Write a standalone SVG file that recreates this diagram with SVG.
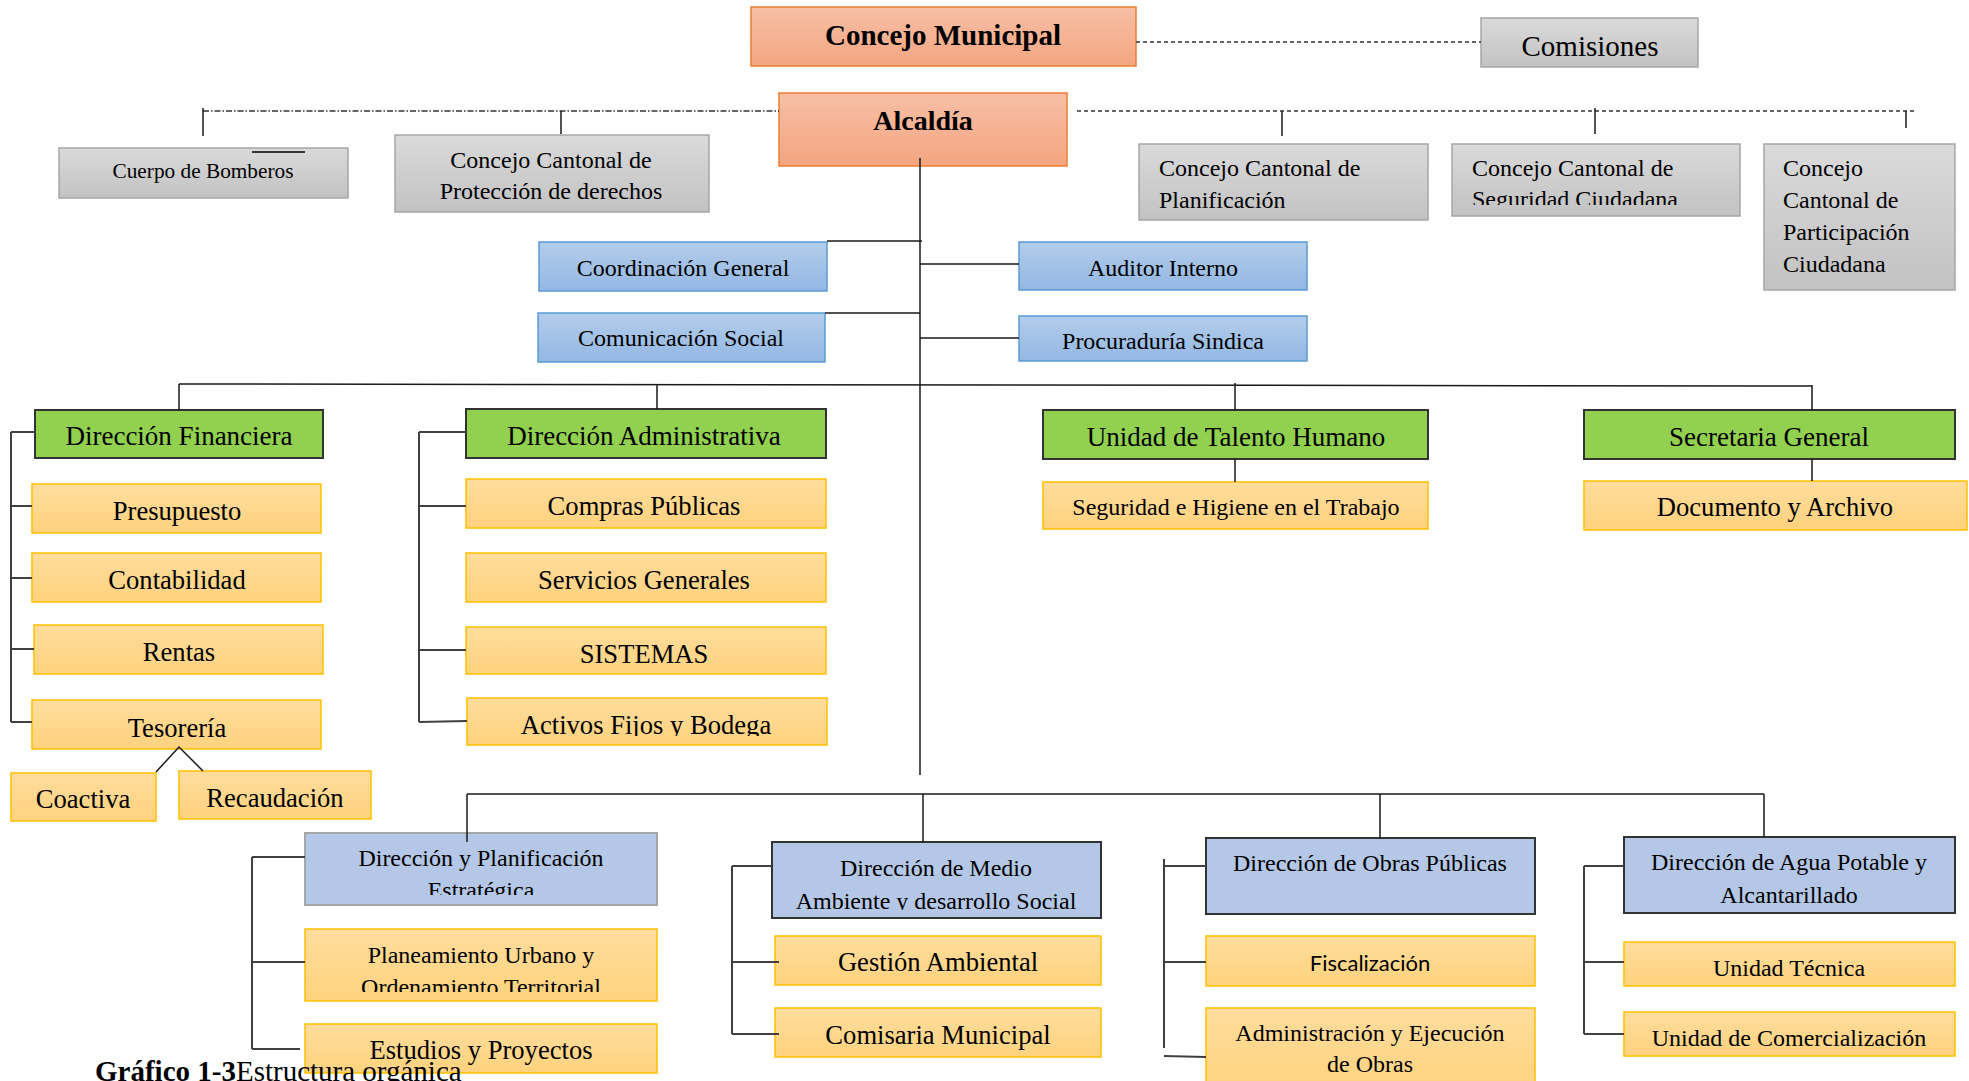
<svg xmlns="http://www.w3.org/2000/svg" width="1969" height="1081" viewBox="0 0 1969 1081">
<defs>
<linearGradient id="gSal" x1="0" y1="0" x2="0" y2="1"><stop offset="0" stop-color="#F7BFA6"/><stop offset="1" stop-color="#F4A580"/></linearGradient>
<linearGradient id="gGray" x1="0" y1="0" x2="0" y2="1"><stop offset="0" stop-color="#DADADA"/><stop offset="1" stop-color="#C2C2C2"/></linearGradient>
<linearGradient id="gBlue" x1="0" y1="0" x2="0" y2="1"><stop offset="0" stop-color="#B3CDEB"/><stop offset="1" stop-color="#93B7E3"/></linearGradient>
<linearGradient id="gOr" x1="0" y1="0" x2="0" y2="1"><stop offset="0" stop-color="#FFDD9E"/><stop offset="1" stop-color="#FFD27D"/></linearGradient>
<clipPath id="cSeg"><rect x="1452" y="144" width="288" height="61"/></clipPath>
<clipPath id="cAct"><rect x="467" y="698" width="360" height="38"/></clipPath>
<clipPath id="cEst"><rect x="305" y="833" width="352" height="62"/></clipPath>
<clipPath id="cMed"><rect x="772" y="842" width="329" height="68"/></clipPath>
<clipPath id="cPla"><rect x="305" y="929" width="352" height="63"/></clipPath>
</defs>
<style>
text{font-family:"Liberation Serif","Times New Roman",serif;fill:#000;text-anchor:middle}
.b{font-weight:bold}
.l{text-anchor:start}
.sal{fill:url(#gSal);stroke:#ED7D31;stroke-width:1.5}
.gry{fill:url(#gGray);stroke:#A6A6A6;stroke-width:1.5}
.blu{fill:url(#gBlue);stroke:#5B9BD5;stroke-width:1.5}
.grn{fill:#92D050;stroke:#333;stroke-width:2}
.org{fill:url(#gOr);stroke:#FFC000;stroke-width:1.5}
.lbl{fill:#B4C7E7;stroke:#333;stroke-width:2}
.lblg{fill:#B4C7E7;stroke:#A6A6A6;stroke-width:2}
.f21{font-size:21.3px}.f24{font-size:24px}.f26{font-size:26.6px}.f27{font-size:27px}.f28{font-size:28px}.f29{font-size:29px}
.c{fill:none;stroke:#1a1a1a;stroke-width:1.5}
.c2{fill:none;stroke:#404040;stroke-width:2}
.dash{fill:none;stroke:#333;stroke-width:1.3;stroke-dasharray:4 3}
.dd{fill:none;stroke:#333;stroke-width:1.3;stroke-dasharray:6 2 1.5 2}
</style>
<rect width="1969" height="1081" fill="#fff"/>

<g id="concejo-municipal"><rect class="sal" x="751" y="7" width="385" height="59"/><text class="b f29" x="943" y="45">Concejo Municipal</text></g>
<g id="comisiones"><rect class="gry" x="1481" y="18" width="217" height="49"/><text class="f29" x="1590" y="56">Comisiones</text></g>
<g id="alcaldia"><rect class="sal" x="779" y="93" width="288" height="73"/><text class="b f28" x="923" y="130">Alcaldía</text></g>
<g id="cuerpo-bomberos"><rect class="gry" x="59" y="148" width="289" height="50"/><line x1="252" y1="152" x2="305" y2="152" stroke="#000" stroke-width="1.5"/><text class="f21" x="203" y="178">Cuerpo de Bomberos</text></g>
<g id="proteccion-derechos"><rect class="gry" x="395" y="135" width="314" height="77"/><text class="f24" x="551" y="168">Concejo Cantonal de</text><text class="f24" x="551" y="199">Protección de derechos</text></g>
<g id="planificacion"><rect class="gry" x="1139" y="144" width="289" height="76"/><text class="f24 l" x="1159" y="176">Concejo Cantonal de</text><text class="f24 l" x="1159" y="208">Planificación</text></g>
<g id="seguridad-ciudadana"><rect class="gry" x="1452" y="144" width="288" height="72"/><g clip-path="url(#cSeg)"><text class="f24 l" x="1472" y="176">Concejo Cantonal de</text><text class="f24 l" x="1472" y="207">Seguridad Ciudadana</text></g></g>
<g id="participacion-ciudadana"><rect class="gry" x="1764" y="144" width="191" height="146"/><text class="f24 l" x="1783" y="176">Concejo</text><text class="f24 l" x="1783" y="208">Cantonal de</text><text class="f24 l" x="1783" y="240">Participación</text><text class="f24 l" x="1783" y="272">Ciudadana</text></g>

<g id="coordinacion-general"><rect class="blu" x="539" y="242" width="288" height="49"/><text class="f24" x="683" y="276">Coordinación General</text></g>
<g id="comunicacion-social"><rect class="blu" x="538" y="313" width="287" height="49"/><text class="f24" x="681" y="346">Comunicación Social</text></g>
<g id="auditor-interno"><rect class="blu" x="1019" y="242" width="288" height="48"/><text class="f24" x="1163" y="276">Auditor Interno</text></g>
<g id="procuraduria-sindica"><rect class="blu" x="1019" y="316" width="288" height="45"/><text class="f24" x="1163" y="349">Procuraduría Sindica</text></g>

<g id="direccion-financiera"><rect class="grn" x="35" y="410" width="288" height="48"/><text class="f27" x="179" y="445">Dirección Financiera</text></g>
<g id="direccion-administrativa"><rect class="grn" x="466" y="409" width="360" height="49"/><text class="f27" x="644" y="445">Dirección Administrativa</text></g>
<g id="talento-humano"><rect class="grn" x="1043" y="410" width="385" height="49"/><text class="f27" x="1236" y="446">Unidad de Talento Humano</text></g>
<g id="secretaria-general"><rect class="grn" x="1584" y="410" width="371" height="49"/><text class="f27" x="1769" y="446">Secretaria General</text></g>

<g id="presupuesto"><rect class="org" x="32" y="484" width="289" height="49"/><text class="f26" x="177" y="520">Presupuesto</text></g>
<g id="contabilidad"><rect class="org" x="32" y="553" width="289" height="49"/><text class="f26" x="177" y="589">Contabilidad</text></g>
<g id="rentas"><rect class="org" x="34" y="625" width="289" height="49"/><text class="f26" x="179" y="661">Rentas</text></g>
<g id="tesoreria"><rect class="org" x="32" y="700" width="289" height="49"/><text class="f26" x="177" y="737">Tesorería</text></g>
<g id="coactiva"><rect class="org" x="11" y="773" width="145" height="48"/><text class="f26" x="83" y="808">Coactiva</text></g>
<g id="recaudacion"><rect class="org" x="179" y="771" width="192" height="48"/><text class="f26" x="275" y="807">Recaudación</text></g>

<g id="compras-publicas"><rect class="org" x="466" y="479" width="360" height="49"/><text class="f26" x="644" y="515">Compras Públicas</text></g>
<g id="servicios-generales"><rect class="org" x="466" y="553" width="360" height="49"/><text class="f26" x="644" y="589">Servicios Generales</text></g>
<g id="sistemas"><rect class="org" x="466" y="627" width="360" height="47"/><text class="f26" x="644" y="663">SISTEMAS</text></g>
<g id="activos-fijos"><rect class="org" x="467" y="698" width="360" height="47"/><g clip-path="url(#cAct)"><text class="f26" x="646" y="734">Activos Fijos y Bodega</text></g></g>

<g id="seguridad-higiene"><rect class="org" x="1043" y="482" width="385" height="47"/><text class="f24" x="1236" y="515">Seguridad e Higiene en el Trabajo</text></g>
<g id="documento-archivo"><rect class="org" x="1584" y="481" width="383" height="49"/><text class="f26" x="1775" y="516">Documento y Archivo</text></g>

<g id="direccion-planificacion"><rect class="lblg" x="305" y="833" width="352" height="72"/><g clip-path="url(#cEst)"><text class="f24" x="481" y="866">Dirección y Planificación</text><text class="f24" x="481" y="898">Estratégica</text></g></g>
<g id="medio-ambiente"><rect class="lbl" x="772" y="842" width="329" height="76"/><g clip-path="url(#cMed)"><text class="f24" x="936" y="876">Dirección de Medio</text><text class="f24" x="936" y="909">Ambiente y desarrollo Social</text></g></g>
<g id="obras-publicas"><rect class="lbl" x="1206" y="838" width="329" height="76"/><text class="f24" x="1370" y="871">Dirección de Obras Públicas</text></g>
<g id="agua-potable"><rect class="lbl" x="1624" y="837" width="331" height="76"/><text class="f24" x="1789" y="870">Dirección de Agua Potable y</text><text class="f24" x="1789" y="903">Alcantarillado</text></g>

<g id="planeamiento-urbano"><rect class="org" x="305" y="929" width="352" height="72"/><g clip-path="url(#cPla)"><text class="f24" x="481" y="963">Planeamiento Urbano y</text><text class="f24" x="481" y="995">Ordenamiento Territorial</text></g></g>
<g id="estudios-proyectos"><rect class="org" x="305" y="1024" width="352" height="49"/><text class="f26" x="481" y="1059">Estudios y Proyectos</text></g>
<g id="gestion-ambiental"><rect class="org" x="775" y="936" width="326" height="49"/><text class="f26" x="938" y="971">Gestión Ambiental</text></g>
<g id="comisaria-municipal"><rect class="org" x="775" y="1008" width="326" height="49"/><text class="f26" x="938" y="1044">Comisaria Municipal</text></g>
<g id="fiscalizacion"><rect class="org" x="1206" y="936" width="329" height="50"/><text x="1370" y="971" style="font-family:Lato,'Open Sans',sans-serif;font-size:22px">Fiscalización</text></g>
<g id="administracion-ejecucion"><rect class="org" x="1206" y="1008" width="329" height="85"/><text class="f24" x="1370" y="1041">Administración y Ejecución</text><text class="f24" x="1370" y="1072">de Obras</text></g>
<g id="unidad-tecnica"><rect class="org" x="1624" y="942" width="331" height="44"/><text class="f24" x="1789" y="976">Unidad Técnica</text></g>
<g id="unidad-comercializacion"><rect class="org" x="1624" y="1012" width="331" height="44"/><text class="f24" x="1789" y="1046">Unidad de Comercialización</text></g>

<g id="connectors">
<path class="dash" d="M1136,42 H1481"/>
<path class="dd" d="M203,111 H779"/>
<path class="dash" d="M1077,111 H1914"/>
<path class="c" d="M203,108 V136 M561,111 V134 M1282,111 V136 M1595,108 V134 M1906,111 V128"/>
<path class="c" d="M920,158 V775"/>
<path class="c" d="M827,241 H922 M825,313 H920 M920,264 H1019 M920,338 H1019"/>
<path class="c" d="M179,384 L1812,386 M179,384 V410 M657,385 V409 M1235,383 V410 M1812,385 V410"/>
<path class="c2" d="M11,432 V722 M11,432 H35 M11,506 H32 M11,578 H32 M11,649 H34 M11,722 H32"/>
<path class="c" d="M156,772 L179,747 L203,771"/>
<path class="c2" d="M419,432 V722 M419,432 H466 M419,506 H466 M419,650 H466 M419,722 L467,721"/>
<path class="c" d="M1235,459 V482 M1812,459 V481"/>
<path class="c" d="M467,794 H1764 M467,794 V842 M923,794 V842 M1380,794 V838 M1764,794 V837"/>
<path class="c2" d="M252,857 V1049 M252,857 H305 M252,962 H305 M252,1049 H300"/>
<path class="c2" d="M732,866 V1034 M732,866 H772 M732,962 H779 M732,1034 H779"/>
<path class="c2" d="M1164,859 V1048 M1164,866 H1206 M1164,962 H1206 M1164,1056 L1206,1057"/>
<path class="c2" d="M1584,866 V1034 M1584,866 H1624 M1584,962 H1624 M1584,1034 H1624"/>
</g>

<g id="caption"><text class="l" x="95" y="1081" style="font-size:29px"><tspan class="b">Gráfico 1-3</tspan>Estructura orgánica</text></g>
</svg>
